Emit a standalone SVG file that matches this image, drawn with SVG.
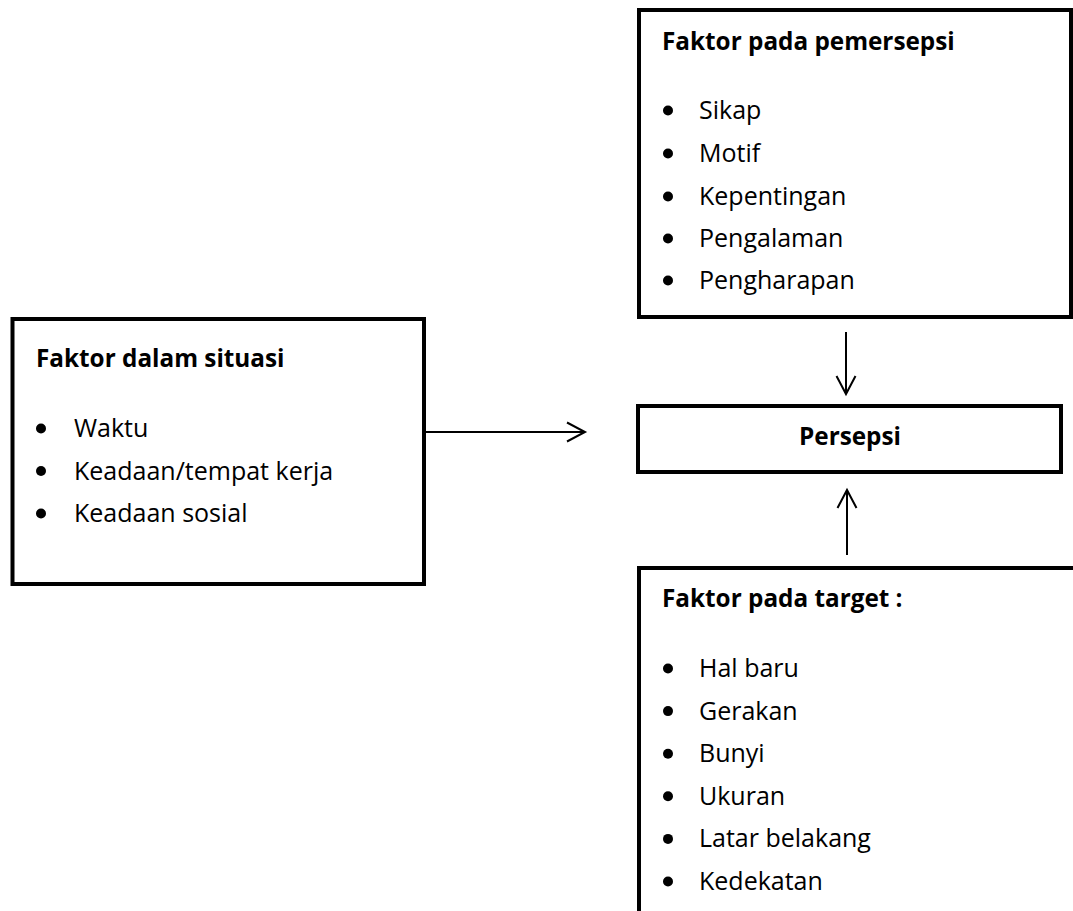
<svg xmlns="http://www.w3.org/2000/svg" width="1073" height="911" viewBox="0 0 1073 911">
  <style>
    .box { fill: #ffffff; stroke: #000000; stroke-width: 4; }
    .conn { fill: none; stroke: #000000; stroke-width: 2; }
    .title { font-family: "Open Sans", "Liberation Sans", sans-serif; font-weight: bold; font-size: 24.3px; fill: #000000; }
    .item { font-family: "Open Sans", "Liberation Sans", sans-serif; font-size: 25px; fill: #000000; }
    .dot { fill: #000000; }
  </style>
  <defs>
    <marker id="arrow" markerUnits="userSpaceOnUse" markerWidth="24" markerHeight="24" refX="19" refY="11" orient="auto" viewBox="0 0 24 22">
      <path d="M1,1.5 L19,11 L1,20.5" fill="none" stroke="#000000" stroke-width="2"/>
    </marker>
  </defs>
  <rect width="1073" height="911" fill="#ffffff"/>

  <g id="connectors">
    <line class="conn" x1="426" y1="432" x2="585" y2="432" marker-end="url(#arrow)"/>
    <line class="conn" x1="846" y1="332" x2="846" y2="394" marker-end="url(#arrow)"/>
    <line class="conn" x1="847" y1="555" x2="847" y2="490" marker-end="url(#arrow)"/>
  </g>

  <g id="node-pemersepsi">
    <rect class="box" x="639" y="10" width="432" height="307"/>
    <text class="title" x="662" y="50">Faktor pada pemersepsi</text>
    <circle class="dot" cx="668" cy="110.5" r="5"/>
    <text class="item" x="699" y="119">Sikap</text>
    <circle class="dot" cx="668" cy="153.5" r="5"/>
    <text class="item" x="699" y="162">Motif</text>
    <circle class="dot" cx="668" cy="196.5" r="5"/>
    <text class="item" x="699" y="205">Kepentingan</text>
    <circle class="dot" cx="668" cy="238.5" r="5"/>
    <text class="item" x="699" y="247">Pengalaman</text>
    <circle class="dot" cx="668" cy="280.5" r="5"/>
    <text class="item" x="699" y="289">Pengharapan</text>
  </g>

  <g id="node-situasi">
    <rect class="box" x="12.5" y="319" width="411.5" height="265"/>
    <text class="title" x="36" y="367">Faktor dalam situasi</text>
    <circle class="dot" cx="41" cy="428.5" r="5"/>
    <text class="item" x="74" y="437">Waktu</text>
    <circle class="dot" cx="41" cy="471" r="5"/>
    <text class="item" x="74" y="479.5">Keadaan/tempat kerja</text>
    <circle class="dot" cx="41" cy="513.5" r="5"/>
    <text class="item" x="74" y="522">Keadaan sosial</text>
  </g>

  <g id="node-persepsi">
    <rect class="box" x="638" y="406" width="423" height="66"/>
    <text class="title" x="850" y="445" text-anchor="middle">Persepsi</text>
  </g>

  <g id="node-target">
    <rect class="box" x="639" y="568" width="500" height="400"/>
    <text class="title" x="662" y="607">Faktor pada target :</text>
    <circle class="dot" cx="668" cy="668.5" r="5"/>
    <text class="item" x="699" y="677">Hal baru</text>
    <circle class="dot" cx="668" cy="711.1" r="5"/>
    <text class="item" x="699" y="719.6">Gerakan</text>
    <circle class="dot" cx="668" cy="753.7" r="5"/>
    <text class="item" x="699" y="762.2">Bunyi</text>
    <circle class="dot" cx="668" cy="796.3" r="5"/>
    <text class="item" x="699" y="804.8">Ukuran</text>
    <circle class="dot" cx="668" cy="838.9" r="5"/>
    <text class="item" x="699" y="847.4">Latar belakang</text>
    <circle class="dot" cx="668" cy="881.5" r="5"/>
    <text class="item" x="699" y="890">Kedekatan</text>
  </g>
</svg>
